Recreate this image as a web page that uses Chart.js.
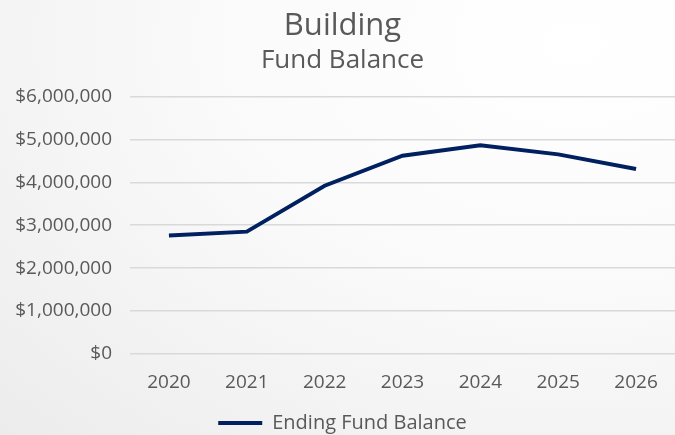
<!DOCTYPE html>
<html>
<head>
<meta charset="utf-8">
<script src="https://cdn.jsdelivr.net/npm/chart.js@4/dist/chart.umd.min.js"></script>
<style>
  html, body { margin: 0; padding: 0; }
  body {
    width: 675px;
    height: 435px;
    overflow: hidden;
    background: radial-gradient(ellipse at 85% 10%, #ffffff 0%, #fafafa 45%, #ececec 100%);
  }
  #wrap { position: relative; width: 675px; height: 435px; }
</style>
</head>
<body>
<div id="wrap"><canvas id="chart"></canvas></div>
<script>
  // Chart data
  const years = ["2020", "2021", "2022", "2023", "2024", "2025", "2026"];
  const endingFundBalance = [2760000, 2850000, 3920000, 4620000, 4860000, 4650000, 4310000];
  const yTicks = [0, 1000000, 2000000, 3000000, 4000000, 5000000, 6000000];

  const textColor = "#595959";
  const fontFamily = "'Century Gothic', 'Open Sans', sans-serif";

  new Chart(document.getElementById("chart"), {
    type: "line",
    data: {
      labels: years,
      datasets: [
        {
          label: "Ending Fund Balance",
          data: endingFundBalance,
          borderColor: "#002060",
          backgroundColor: "#002060",
          borderWidth: 4,
          pointRadius: 0,
          tension: 0,
        },
      ],
    },
    options: {
      responsive: true,
      maintainAspectRatio: false,
      animation: false,
      layout: {
        padding: { left: 10, right: 0, top: 8, bottom: -8 },
      },
      plugins: {
        title: {
          display: true,
          text: "Building",
          color: textColor,
          font: { family: fontFamily, size: 31, weight: "normal" },
          padding: { top: 0, bottom: 0 },
        },
        subtitle: {
          display: true,
          text: "Fund Balance",
          color: textColor,
          font: { family: fontFamily, size: 26, weight: "normal" },
          padding: { top: 0, bottom: 20 },
        },
        legend: {
          position: "bottom",
          labels: {
            color: textColor,
            font: { family: fontFamily, size: 20 },
            usePointStyle: true,
            pointStyle: "line",
            pointStyleWidth: 44,
            padding: 0,
          },
        },
        tooltip: { enabled: false },
      },
      scales: {
        x: {
          offset: true,
          afterFit: function (axis) {
            axis.height = 59;
          },
          grid: { display: false },
          border: { display: false },
          ticks: {
            color: textColor,
            font: { family: fontFamily, size: 19 },
            padding: 9,
          },
        },
        y: {
          min: 0,
          max: 6000000,
          afterBuildTicks: function (axis) {
            axis.ticks = yTicks.map(function (v) { return { value: v }; });
          },
          afterFit: function (axis) {
            axis.width = 120;
          },
          grid: { color: "#d9d9d9", lineWidth: 1.5, drawTicks: false },
          border: { display: false },
          ticks: {
            color: textColor,
            font: { family: fontFamily, size: 19 },
            padding: 18,
            callback: function (v) {
              return "$" + Number(v).toLocaleString("en-US");
            },
          },
        },
      },
    },
  });
</script>
</body>
</html>
